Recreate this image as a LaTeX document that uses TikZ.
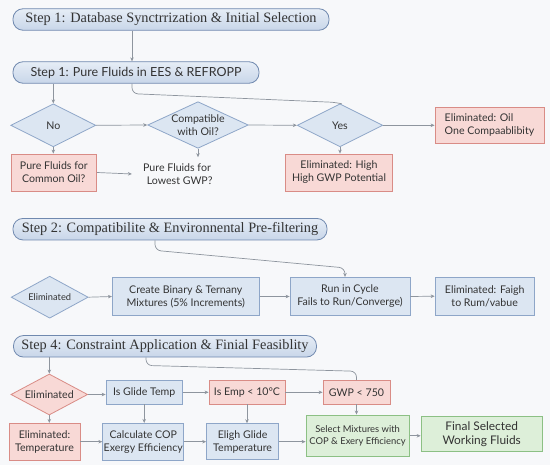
\documentclass[tikz,border=0pt]{standalone}
\usepackage{fontspec}
\setmainfont{Liberation Serif}
\setsansfont{Lato}
\usepackage{tikz}
\usetikzlibrary{arrows.meta, positioning, shapes.geometric, calc}

\definecolor{bgcolor}{HTML}{F7F8FA}
\definecolor{textgray}{HTML}{333333}
\definecolor{arrowgray}{HTML}{8E959E}
\definecolor{bluefill}{HTML}{DCE6F2}
\definecolor{blueline}{HTML}{8EA6C8}
\definecolor{redfill}{HTML}{F8D9D6}
\definecolor{redline}{HTML}{D98C86}
\definecolor{greenfill}{HTML}{DDEFD9}
\definecolor{greenline}{HTML}{8CC084}
\definecolor{bannertop}{HTML}{E6EDF6}
\definecolor{bannerbot}{HTML}{C8D6E9}
\definecolor{bannerline}{HTML}{7089AF}

\begin{document}
\begin{tikzpicture}[
  x=1pt, y=-1pt,
  every node/.style={font=\sffamily\fontsize{10.6}{13}\selectfont, text=textgray},
  banner/.style={draw=bannerline, line width=0.8pt, rounded corners=10pt, top color=bannertop,
                 bottom color=bannerbot, minimum height=21.5pt, font=\rmfamily\fontsize{14.3}{16}\selectfont},
  stepbox/.style={draw, line width=0.8pt, align=center, inner sep=1pt},
  bluebox/.style={stepbox, draw=blueline, fill=bluefill},
  redbox/.style={stepbox, draw=redline, fill=redfill},
  greenbox/.style={stepbox, draw=greenline, fill=greenfill},
  decision/.style={diamond, draw=blueline, fill=bluefill, line width=0.8pt, aspect=2,
                   inner xsep=-4pt, inner ysep=-3pt, align=center},
  arrow/.style={-{Stealth[length=4pt, width=3.5pt]}, draw=arrowgray, line width=0.7pt},
  link/.style={draw=arrowgray, line width=0.7pt, rounded corners=6pt},
]

% Background
\fill[bgcolor] (0,0) rectangle (550,465);
\useasboundingbox (0,0) rectangle (550,465);

% Step 1 banners
\node[banner, minimum width=316pt] (db) at (171, 19.5) {Step 1: Database Synctrrization \& Initial Selection};
\node[banner, minimum width=246pt, font=\sffamily\fontsize{12.5}{14}\selectfont] (pure) at (136, 72.5) {Step 1: Pure Fluids in EES \& REFROPP};

% Decisions of step 1
\node[decision, minimum width=85pt, minimum height=43pt] (no) at (53.3, 125.3) {No};
\node[decision, minimum width=100.6pt, minimum height=46.6pt] (compat) at (198, 125) {Compatible\\with Oil?};
\node[decision, minimum width=85.5pt, minimum height=43pt] (yes) at (340, 125.3) {Yes};
\node[redbox, align=left, minimum width=109pt, minimum height=36pt] (elimoil) at (489.5, 125) {Eliminated: Oil\\One Compaablibity};

% Results of step 1
\node[redbox, minimum width=85.7pt, minimum height=37pt] (common) at (53.8, 172.5) {Pure Fluids for\\Common Oil?};
\node[align=center] (lowest) at (177, 174) {Pure Fluids for\\\ \ Lowest GWP?};
\node[redbox, minimum width=107.6pt, minimum height=37pt] (elimhigh) at (339, 172.5) {Eliminated: High\\High GWP Potential};

% Step 2
\node[banner, minimum width=314pt] (prefilter) at (170, 229.2) {Step 2: Compatibilite \& Environnental Pre-filtering};
\node[decision, minimum width=77pt, minimum height=42pt, font=\sffamily\fontsize{9.3}{11}\selectfont] (elimblue) at (49.7, 297.2) {Eliminated};
\node[bluebox, minimum width=147pt, minimum height=38.4pt] (create) at (185.8, 296.5) {Create Binary \& Ternany\\Mixtures (5\% Increments)};
\node[bluebox, minimum width=120pt, minimum height=38.4pt] (run) at (350, 296.5) {Run in Cycle\\Fails to Run/Converge)};
\node[bluebox, minimum width=99.3pt, minimum height=37.7pt] (elimfaigh) at (484.7, 296.2) {Eliminated: Faigh\\to Rum/vabue};

% Step 4
\node[banner, minimum width=303pt] (constraint) at (165, 346.3) {Step 4: Constraint Application \& Finial Feasiblity};
\node[decision, draw=redline, fill=redfill, minimum width=76.7pt, minimum height=41pt] (elimred) at (49.3, 394.5) {Eliminated};
\node[bluebox, minimum width=76.3pt, minimum height=23.3pt] (glide) at (144.2, 392.3) {Is Glide Temp};
\node[redbox, minimum width=76pt, minimum height=23.3pt] (emp) at (247, 392.3) {Is Emp < 10°C};
\node[redbox, minimum width=67pt, minimum height=23.3pt] (gwp) at (356.5, 392.3) {GWP < 750};
\node[redbox, minimum width=71pt, minimum height=36.7pt] (elimtemp) at (44.5, 441.7) {Eliminated:\\Temperature};
\node[bluebox, minimum width=78pt, minimum height=36.7pt] (calc) at (143.3, 441.7) {Calculate COP\\Exergy Efficiency};
\node[bluebox, minimum width=72pt, minimum height=36pt] (eligh) at (242.6, 441.7) {Eligh Glide\\Temperature};
\node[greenbox, minimum width=103.3pt, minimum height=41.7pt, font=\sffamily\fontsize{9.4}{12}\selectfont] (select) at (357.6, 435.8) {Select Mixtures with\\COP \& Exery Efficiency};
\node[greenbox, minimum width=121.3pt, minimum height=35pt, font=\sffamily\fontsize{11.9}{13.5}\selectfont] (final) at (481.7, 434.2) {Final Selected\\Working Fluids};

% Connectors of step 1
\draw[arrow] ($(pure.north |- db.south) + (-4, 0)$) -- ($(pure.north) + (-4, 0)$);
\draw[arrow] (no.north |- pure.south) -- (no.north);
\draw[link] ($(pure.south) + (-4, 0)$) -- ++(0, 10) -- ($(yes.north) + (-4, -1)$) -- (yes.north);
\draw[arrow] (no.east) -- (compat.west);
\draw[arrow] (compat.east) -- (yes.west);
\draw[arrow] (yes.east) -- (elimoil.west |- yes.east);
\draw[arrow] (no.south) -- (no.south |- common.north);
\draw[arrow] (compat.south) -- ++(0, 8.5);
\draw[arrow] (yes.south) -- (yes.south |- elimhigh.north);
\draw[arrow] (common.east) -- ($(lowest.west) + (-6, 0)$);

% Connectors of step 2
\draw[link, -{Stealth[length=4pt, width=3.5pt]}] ($(prefilter.south) + (-15, 0)$) -- ++(0, 10) -- ($(run.north) + (-5, -9)$) -- ($(run.north) + (-5, 0)$);
\draw[arrow] (elimblue.east) -- (create.west);
\draw[arrow] (create.east) -- (run.west);
\draw[arrow] (run.east) -- (elimfaigh.west);

% Connectors of step 4
\draw[arrow] (elimred.north |- constraint.south) -- (elimred.north);
\draw[link] ($(constraint.south) + (-19, 0)$) -- ++(0, 8) -- ($(gwp.north) + (0, -9)$) -- (gwp.north);
\draw[arrow] (elimred.east) -- (glide.west |- elimred.east);
\draw[arrow] (glide.east) -- (emp.west);
\draw[arrow] (emp.east) -- (gwp.west);
\draw[arrow] (elimred.south) -- (elimred.south |- elimtemp.north);
\draw[arrow] (glide.south) -- (glide.south |- calc.north);
\draw[arrow] (emp.south) -- (emp.south |- eligh.north);
\draw[arrow] (gwp.south) -- (gwp.south |- select.north);
\draw[arrow] (elimtemp.east) -- (calc.west);
\draw[arrow] (calc.east) -- (eligh.west);
\draw[arrow] (eligh.east) -- (eligh.east -| select.west);
\draw[arrow] (select.east) -- (select.east -| final.west);

\end{tikzpicture}
\end{document}
